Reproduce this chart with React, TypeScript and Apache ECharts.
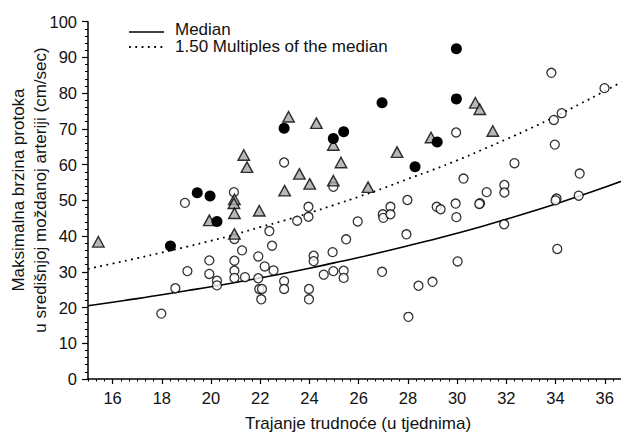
import React, { useEffect, useRef } from "react";
import * as echarts from "echarts";

const curveWeeks = [15, 16, 17, 18, 19, 20, 21, 22, 23, 24, 25, 26, 27, 28, 29, 30, 31, 32, 33, 34, 35, 36, 37];
const medianValues = [20.5, 21.5, 22.5, 23.6, 24.7, 25.8, 27.0, 28.3, 29.6, 31.0, 32.5, 34.0, 35.6, 37.3, 39.0, 40.8, 42.7, 44.7, 46.8, 49.0, 51.3, 53.7, 56.2];
const upperValues = [30.8, 32.3, 33.8, 35.4, 37.0, 38.7, 40.5, 42.5, 44.4, 46.5, 48.7, 51.0, 53.4, 56.0, 58.5, 61.2, 64.1, 67.1, 70.2, 73.5, 77.0, 80.6, 84.3];

const xTickLabels = [16, 18, 20, 22, 24, 26, 28, 30, 32, 34, 36];

const openPoints: [number, number][] = [
  [17.98, 18.3], [18.55, 25.4], [18.94, 49.3], [19.04, 30.2], [19.93, 33.2], [19.93, 29.4],
  [20.24, 27.5], [20.24, 26.2], [20.93, 52.3], [20.95, 39.2], [20.95, 33.1], [20.95, 30.3],
  [20.95, 28.3], [21.26, 36.0], [21.38, 28.5], [21.92, 34.3], [21.92, 28.2], [21.96, 25.2],
  [22.07, 25.2], [22.04, 22.3], [22.18, 31.5], [22.37, 41.4], [22.48, 37.3], [22.54, 30.4],
  [22.97, 60.6], [22.97, 27.4], [22.97, 25.2], [23.5, 44.3], [23.96, 48.2], [23.96, 45.4],
  [23.98, 25.2], [23.98, 22.3], [24.17, 34.5], [24.17, 33.0], [24.58, 29.2], [24.94, 35.5],
  [24.97, 53.8], [24.97, 30.2], [25.39, 30.3], [25.39, 28.3], [25.49, 39.1], [25.96, 44.1],
  [26.95, 30.0], [26.98, 46.1], [27.0, 45.1], [27.29, 48.2], [27.29, 46.1], [27.94, 40.5],
  [27.98, 50.1], [28.02, 17.4], [28.43, 26.1], [29.0, 27.2], [29.17, 48.2], [29.33, 47.5],
  [29.96, 69.0], [29.94, 49.1], [29.97, 45.3], [30.02, 32.9], [30.26, 56.1], [30.93, 49.2],
  [30.9, 49.0], [31.2, 52.3], [31.91, 43.3], [31.92, 54.3], [31.92, 52.2], [32.33, 60.4],
  [33.83, 85.7], [33.93, 72.5], [33.97, 65.6], [34.04, 50.5], [34.0, 50.0], [34.07, 36.4],
  [34.25, 74.4], [34.94, 51.3], [34.98, 57.5], [35.99, 81.4],
];

const trianglePoints: [number, number][] = [
  [15.42, 38.4], [19.93, 44.4], [20.95, 50.3], [20.93, 49.2], [20.95, 46.4], [20.95, 40.6],
  [21.33, 62.7], [21.46, 59.3], [21.96, 47.1], [23.15, 73.4], [22.99, 52.7], [23.59, 57.4],
  [24.01, 54.6], [24.28, 71.6], [24.97, 65.5], [25.28, 60.6], [24.97, 55.5], [26.38, 53.7],
  [27.56, 63.5], [28.94, 67.6], [30.74, 77.3], [30.92, 75.5], [31.45, 69.4],
];

const filledPoints: [number, number][] = [
  [18.35, 37.2], [19.44, 52.1], [19.96, 51.2], [20.24, 44.1], [22.97, 70.2], [24.97, 67.3],
  [25.39, 69.2], [26.95, 77.3], [28.29, 59.4], [29.19, 66.3], [29.97, 92.4], [29.97, 78.4],
];

const FONT = "'Liberation Sans', Arial, Helvetica, sans-serif";
const TXT = "#111";

export default function App() {
  const ref = useRef<HTMLDivElement>(null);
  useEffect(() => {
    if (!ref.current) return;
    const chart = echarts.init(ref.current, undefined, { renderer: "svg" });
    const medianData = curveWeeks.map((w, i) => [w, medianValues[i]]);
    const upperData = curveWeeks.map((w, i) => [w, upperValues[i]]);
    chart.setOption({
      animation: false,
      backgroundColor: "#fff",
      grid: { left: 88, right: 0, top: 21.7, bottom: 53, containLabel: false },
      xAxis: [
        {
          type: "value",
          min: 15,
          max: 36.66,
          position: "bottom",
          axisLine: { show: true, onZero: false, lineStyle: { color: "#000", width: 1.5 } },
          axisTick: { show: true, length: 5, inside: false, customValues: xTickLabels, lineStyle: { color: "#000", width: 1.2 } },
          axisLabel: { show: true, customValues: xTickLabels, margin: 10, color: TXT, fontSize: 16.5, fontFamily: FONT },
          splitLine: { show: false },
        },
        {
          type: "value",
          min: 15,
          max: 36.66,
          interval: 1 / 3,
          position: "bottom",
          gridIndex: 0,
          axisLine: { show: false },
          axisTick: { show: true, length: 2.5, lineStyle: { color: "#000", width: 1 } },
          axisLabel: { show: false },
          splitLine: { show: false },
        },
      ],
      yAxis: {
        type: "value",
        min: 0,
        max: 100,
        interval: 10,
        axisLine: { show: true, lineStyle: { color: "#000", width: 1.5 } },
        axisTick: { show: true, length: 6, lineStyle: { color: "#000", width: 1.2 } },
        minorTick: { show: true, splitNumber: 5, length: 3, lineStyle: { color: "#000", width: 1 } },
        axisLabel: { margin: 11, color: TXT, fontSize: 16.5, fontFamily: FONT },
        splitLine: { show: false },
      },
      series: [
        {
          type: "line",
          data: medianData,
          smooth: true,
          symbol: "none",
          lineStyle: { color: "#000", width: 1.6 },
          z: 1,
        },
        {
          type: "line",
          data: upperData,
          smooth: true,
          symbol: "none",
          lineStyle: { color: "#000", width: 1.8, type: [1.8, 4.5] },
          z: 1,
        },
        {
          type: "scatter",
          data: openPoints,
          symbol: "circle",
          symbolSize: 9,
          itemStyle: { color: "#fff", borderColor: "#000", borderWidth: 1.3 },
          z: 2,
        },
        {
          type: "scatter",
          data: trianglePoints,
          symbol: "triangle",
          symbolSize: [11.5, 10.5],
          itemStyle: { color: "#a6a6a6", borderColor: "#000", borderWidth: 1.4 },
          z: 3,
        },
        {
          type: "scatter",
          data: filledPoints,
          symbol: "circle",
          symbolSize: 11,
          itemStyle: { color: "#000", borderColor: "#000", borderWidth: 0, opacity: 1 },
          z: 4,
        },
      ],
      graphic: [
        { type: "line", shape: { x1: 129, y1: 32, x2: 164, y2: 32 }, style: { stroke: "#000", lineWidth: 1.6 } },
        { type: "line", shape: { x1: 129, y1: 47, x2: 164, y2: 47 }, style: { stroke: "#000", lineWidth: 1.8, lineDash: [1.8, 4.5] } },
        { type: "text", x: 175, y: 29, style: { text: "Median", fill: TXT, font: `17px ${FONT}`, textVerticalAlign: "middle" } },
        { type: "text", x: 175, y: 46.5, style: { text: "1.50 Multiples of the median", fill: TXT, font: `17px ${FONT}`, textVerticalAlign: "middle" } },
        { type: "text", x: 18, y: 190, rotation: Math.PI / 2, style: { text: "Maksimalna brzina protoka", fill: TXT, font: `17px ${FONT}`, textAlign: "center", textVerticalAlign: "middle" } },
        { type: "text", x: 40, y: 190, rotation: Math.PI / 2, style: { text: "u središnjoj moždanoj arteriji (cm/sec)", fill: TXT, font: `17px ${FONT}`, textAlign: "center", textVerticalAlign: "middle" } },
        { type: "text", x: 358, y: 423, style: { text: "Trajanje trudnoće (u tjednima)", fill: TXT, font: `17px ${FONT}`, textAlign: "center", textVerticalAlign: "middle" } },
      ],
    });
    return () => chart.dispose();
  }, []);
  return <div ref={ref} style={{ position: "fixed", left: 0, top: 0, width: 621, height: 432 }} />;
}
